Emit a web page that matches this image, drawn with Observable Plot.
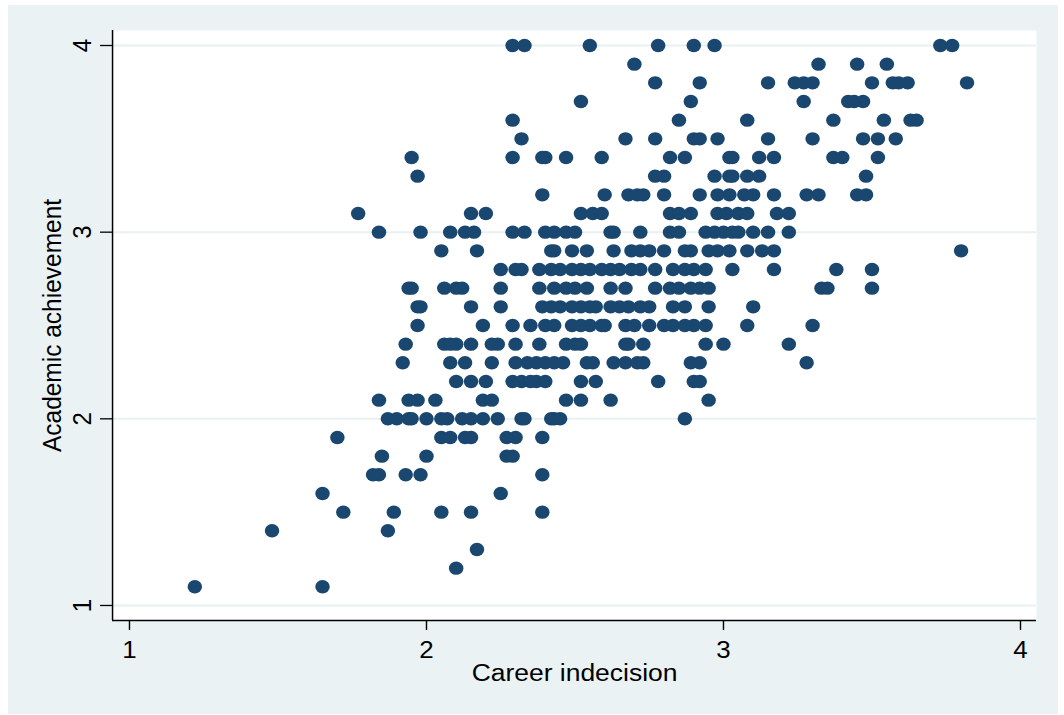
<!DOCTYPE html>
<html><head><meta charset="utf-8">
<script src="https://cdn.jsdelivr.net/npm/d3@7"></script>
<script src="https://cdn.jsdelivr.net/npm/@observablehq/plot@0.6"></script>
<style>
html,body{margin:0;padding:0;background:#fff;width:1064px;height:715px;overflow:hidden}
#wrap{position:absolute;left:8px;top:5px;width:1050px;height:709px;background:#eaf2f3;overflow:hidden}
#chart{transform-origin:0 0;transform:scale(1.08,1)}
#chart svg{display:block}
</style></head><body><div id="wrap"><div id="chart"></div></div>
<script>
const xLabel = "Career indecision";
const yLabel = "Academic achievement";
const xTicks = [1, 2, 3, 4];
const yTicks = [1, 2, 3, 4];
// Academic achievement levels (one row of points per level)
const achievementLevels = [4.0, 3.9, 3.8, 3.7, 3.6, 3.5, 3.4, 3.3, 3.2, 3.1, 3.0, 2.9, 2.8, 2.7, 2.6, 2.5, 2.4, 2.3, 2.2, 2.1, 2.0, 1.9, 1.8, 1.7, 1.6, 1.5, 1.4, 1.3, 1.2, 1.1];
// Career indecision values of the points at each level
const careerIndecision = [
  [2.29, 2.33, 2.55, 2.78, 2.90, 2.97, 3.73, 3.77],
  [2.70, 3.32, 3.45, 3.55],
  [2.77, 2.92, 3.15, 3.24, 3.27, 3.30, 3.50, 3.57, 3.59, 3.62, 3.82],
  [2.52, 2.89, 3.27, 3.42, 3.44, 3.47],
  [2.29, 2.85, 3.08, 3.37, 3.54, 3.63, 3.65],
  [2.32, 2.67, 2.77, 2.90, 2.92, 2.98, 3.15, 3.30, 3.47, 3.52, 3.58],
  [1.95, 2.29, 2.39, 2.40, 2.47, 2.59, 2.82, 2.87, 3.02, 3.03, 3.12, 3.17, 3.37, 3.40, 3.52],
  [1.97, 2.77, 2.80, 2.97, 3.02, 3.03, 3.08, 3.12, 3.48],
  [2.39, 2.60, 2.68, 2.71, 2.73, 2.80, 2.92, 2.98, 3.02, 3.07, 3.10, 3.17, 3.28, 3.32, 3.45, 3.48],
  [1.77, 2.15, 2.20, 2.52, 2.56, 2.59, 2.82, 2.85, 2.89, 2.98, 3.01, 3.05, 3.08, 3.18, 3.22],
  [1.84, 1.98, 2.08, 2.13, 2.16, 2.29, 2.33, 2.40, 2.43, 2.47, 2.50, 2.62, 2.63, 2.72, 2.82, 2.85, 2.94, 2.97, 3.00, 3.03, 3.05, 3.10, 3.15, 3.22],
  [2.05, 2.17, 2.42, 2.43, 2.49, 2.54, 2.63, 2.69, 2.72, 2.75, 2.80, 2.87, 2.89, 2.95, 2.98, 3.02, 3.08, 3.13, 3.17, 3.80],
  [2.25, 2.30, 2.32, 2.38, 2.42, 2.45, 2.49, 2.52, 2.55, 2.59, 2.62, 2.65, 2.69, 2.72, 2.77, 2.83, 2.87, 2.90, 2.94, 3.03, 3.17, 3.38, 3.50],
  [1.94, 1.95, 2.06, 2.10, 2.12, 2.25, 2.38, 2.43, 2.47, 2.50, 2.54, 2.62, 2.67, 2.77, 2.82, 2.85, 2.89, 2.92, 2.95, 3.33, 3.35, 3.50],
  [1.97, 1.98, 2.15, 2.25, 2.39, 2.42, 2.45, 2.49, 2.52, 2.55, 2.57, 2.62, 2.65, 2.68, 2.72, 2.75, 2.83, 2.87, 2.95, 3.10],
  [1.97, 2.19, 2.29, 2.35, 2.40, 2.43, 2.49, 2.52, 2.55, 2.59, 2.60, 2.67, 2.70, 2.75, 2.80, 2.83, 2.87, 2.90, 2.94, 3.08, 3.30],
  [1.93, 2.06, 2.08, 2.10, 2.15, 2.22, 2.24, 2.30, 2.38, 2.47, 2.50, 2.52, 2.67, 2.68, 2.73, 2.94, 3.00, 3.22],
  [1.92, 2.08, 2.13, 2.22, 2.30, 2.34, 2.37, 2.40, 2.43, 2.46, 2.54, 2.56, 2.63, 2.67, 2.71, 2.73, 2.89, 2.92, 3.28],
  [2.10, 2.15, 2.20, 2.29, 2.32, 2.35, 2.37, 2.40, 2.52, 2.57, 2.78, 2.90, 2.92],
  [1.84, 1.94, 1.97, 2.03, 2.19, 2.22, 2.47, 2.52, 2.62, 2.95],
  [1.87, 1.90, 1.94, 1.95, 2.00, 2.05, 2.07, 2.12, 2.15, 2.19, 2.24, 2.32, 2.33, 2.42, 2.43, 2.45, 2.87],
  [1.70, 2.05, 2.08, 2.13, 2.15, 2.27, 2.30, 2.39],
  [1.85, 2.00, 2.27, 2.29],
  [1.82, 1.84, 1.93, 1.98, 2.39],
  [1.65, 2.25],
  [1.72, 1.89, 2.05, 2.15, 2.39],
  [1.48, 1.87],
  [2.17],
  [2.10],
  [1.22, 1.65]
];

const points = achievementLevels.flatMap((a, i) =>
  careerIndecision[i].map(c => ({career: c, achievement: a})));

const SX = 1.08;
const W = 1050 / SX, H = 709;
const xDomain = [0.943, 4.054];
const yDomain = [0.9196, 4.0804];
const font = "'Liberation Sans', Arial, Helvetica, sans-serif";

const chart = Plot.plot({
  width: W, height: H,
  marginLeft: 104 / SX, marginRight: 22 / SX, marginTop: 25, marginBottom: 94,
  style: {background: "transparent", fontFamily: font, fontSize: "24px", color: "#000"},
  x: {domain: xDomain},
  y: {domain: yDomain},
  marks: [
    Plot.frame({fill: "#ffffff", stroke: null}),
    Plot.gridY(yTicks, {stroke: "#e8f0f2", strokeOpacity: 1, strokeWidth: 2}),
    Plot.dot(points, {x: "career", y: "achievement", r: 6.7, fill: "#1a476f", stroke: null}),
    Plot.axisX(xTicks, {tickSize: 10, tickPadding: 10, fontSize: 24, stroke: "#000", strokeWidth: 1.3, label: null, tickFormat: d => String(d)}),
    Plot.axisY(yTicks, {tickSize: 12 / SX, tickPadding: 0, stroke: "#000", strokeWidth: 1.3, label: null, tickFormat: () => ""}),
    Plot.text(yTicks, {x: xDomain[0], y: d => d, text: d => String(d), rotate: -90, dx: -30 / SX, fontSize: 24, fill: "#000", lineAnchor: "middle", textAnchor: "middle"}),
    Plot.ruleX([xDomain[0]], {stroke: "#000", strokeWidth: 1.5 / SX}),
    Plot.ruleY([yDomain[0]], {stroke: "#000", strokeWidth: 1.5}),
    Plot.text([yLabel], {frameAnchor: "left", rotate: -90, dx: -60 / SX, fontSize: 24.5, fill: "#000", lineAnchor: "middle", textAnchor: "middle"}),
    Plot.text([xLabel], {frameAnchor: "bottom", dy: 53, fontSize: 24.5, fill: "#000", lineAnchor: "middle", textAnchor: "middle"})
  ]
});
document.getElementById("chart").appendChild(chart);
</script>
</body></html>
